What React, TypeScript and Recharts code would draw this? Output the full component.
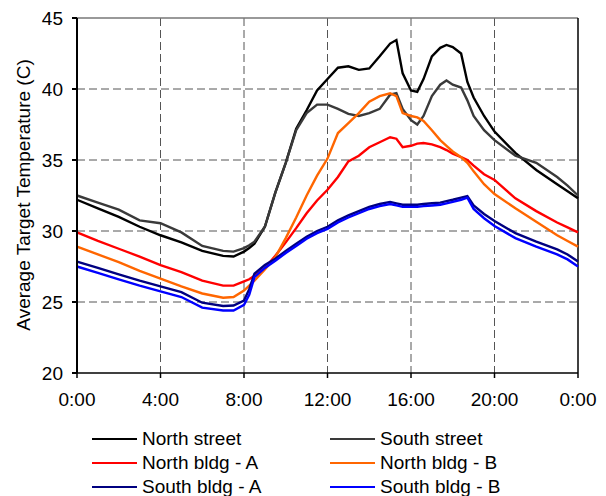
import { LineChart, Line, XAxis, YAxis, CartesianGrid, ReferenceLine, Label } from "recharts"

const HOURS = [0, 1, 2, 3, 4, 5, 6, 7, 7.5, 8, 8.25, 8.5, 9, 9.5, 10, 10.5, 11, 11.5, 12, 12.5, 13, 13.5, 14, 14.5, 15, 15.3, 15.6, 16, 16.3, 16.6, 17, 17.4, 17.7, 18, 18.4, 18.7, 19, 19.5, 20, 21, 22, 23, 23.5, 24]

const NORTH_STREET = [32.2, 31.6, 31.0, 30.3, 29.7, 29.2, 28.6, 28.25, 28.2, 28.55, 28.8, 29.1, 30.3, 32.7, 34.8, 37.2, 38.5, 39.9, 40.7, 41.5, 41.6, 41.35, 41.45, 42.3, 43.2, 43.45, 41.1, 39.9, 39.8, 40.7, 42.3, 42.9, 43.1, 42.95, 42.5, 40.5, 39.4, 38.1, 37.0, 35.5, 34.3, 33.3, 32.8, 32.3]
const SOUTH_STREET = [32.5, 32.0, 31.5, 30.75, 30.55, 29.9, 28.95, 28.6, 28.55, 28.8, 29.0, 29.25, 30.3, 32.7, 34.8, 37.1, 38.3, 38.9, 38.9, 38.6, 38.25, 38.1, 38.3, 38.6, 39.6, 39.7, 38.6, 37.8, 37.5, 38.1, 39.5, 40.3, 40.6, 40.3, 40.1, 39.2, 38.1, 37.1, 36.4, 35.3, 34.8, 33.8, 33.2, 32.5]
const NORTH_BLDG_A = [29.9, 29.3, 28.75, 28.2, 27.6, 27.1, 26.5, 26.15, 26.15, 26.45, 26.6, 26.85, 27.4, 28.25, 29.2, 30.2, 31.25, 32.15, 32.9, 33.8, 34.9, 35.3, 35.9, 36.25, 36.6, 36.5, 35.9, 36.0, 36.15, 36.2, 36.1, 35.9, 35.7, 35.45, 35.2, 35.0, 34.6, 34.0, 33.6, 32.3, 31.4, 30.6, 30.25, 29.9]
const NORTH_BLDG_B = [28.9, 28.35, 27.8, 27.2, 26.65, 26.1, 25.6, 25.3, 25.35, 25.8, 26.15, 26.5, 27.3, 28.15, 29.5, 30.95, 32.5, 33.9, 35.1, 36.9, 37.6, 38.3, 39.1, 39.5, 39.7, 39.5, 38.3, 38.1, 38.0, 37.75, 37.1, 36.4, 36.0, 35.6, 35.2, 34.8, 34.2, 33.3, 32.6, 31.6, 30.65, 29.7, 29.3, 28.9]
const SOUTH_BLDG_A = [27.85, 27.4, 26.95, 26.5, 26.1, 25.7, 24.95, 24.72, 24.75, 25.1, 25.9, 27.0, 27.6, 28.05, 28.6, 29.1, 29.6, 30.0, 30.3, 30.75, 31.1, 31.4, 31.7, 31.9, 32.05, 31.95, 31.85, 31.85, 31.85, 31.9, 31.95, 32.0, 32.1, 32.2, 32.35, 32.45, 31.8, 31.2, 30.7, 29.85, 29.25, 28.7, 28.35, 27.85]
const SOUTH_BLDG_B = [27.5, 27.05, 26.6, 26.15, 25.75, 25.35, 24.6, 24.4, 24.4, 24.8, 25.5, 26.75, 27.4, 27.9, 28.45, 28.95, 29.45, 29.85, 30.15, 30.6, 30.95, 31.25, 31.55, 31.75, 31.9, 31.8, 31.7, 31.7, 31.7, 31.75, 31.8, 31.85, 31.95, 32.05, 32.2, 32.35, 31.55, 30.9, 30.35, 29.5, 28.9, 28.35, 28.0, 27.5]

const X_TICKS = [0, 4, 8, 12, 16, 20, 24]
const Y_TICKS = [20, 25, 30, 35, 40, 45]

const SERIES = [
  { key: "ns", name: "North street", color: "#000000", values: NORTH_STREET },
  { key: "ss", name: "South street", color: "#3a3a3a", values: SOUTH_STREET },
  { key: "na", name: "North bldg - A", color: "#ff0000", values: NORTH_BLDG_A },
  { key: "nb", name: "North bldg - B", color: "#ff6600", values: NORTH_BLDG_B },
  { key: "sa", name: "South bldg - A", color: "#000080", values: SOUTH_BLDG_A },
  { key: "sb", name: "South bldg - B", color: "#0000ff", values: SOUTH_BLDG_B }
]

const FONT = "'Liberation Sans', Arial, sans-serif"

const data = HOURS.map((h, i) => {
  const row: any = { hour: h }
  SERIES.forEach(s => { row[s.key] = s.values[i] })
  return row
})

const fmtHour = (h: number) => `${h % 24}:00`

export default function App() {
  return (
    <div style={{ position: "absolute", left: 0, top: 0, width: 606, height: 496, background: "#fff", fontFamily: FONT, overflow: "hidden" }}>

      <LineChart width={606} height={420} data={data} margin={{ top: 18, right: 28, left: 0, bottom: 0 }}>

        <CartesianGrid stroke="#555" strokeDasharray="8 4" horizontalValues={[25, 30, 35, 40]} verticalValues={[4, 8, 12, 16, 20]} />

        <XAxis
          dataKey="hour"
          type="number"
          domain={[0, 24]}
          ticks={X_TICKS}
          tickFormatter={fmtHour}
          height={47}
          tickSize={5}
          tickMargin={15}
          stroke="#000"
          strokeWidth={1.5}
          tick={{ fill: "#000", fontSize: 19, fontFamily: FONT }}
        />

        <YAxis
          type="number"
          domain={[20, 45]}
          ticks={Y_TICKS}
          width={77}
          tickSize={5}
          tickMargin={9}
          stroke="#000"
          strokeWidth={2}
          tick={{ fill: "#000", fontSize: 19, fontFamily: FONT }}
        >
          <Label
            content={() => (
              <text x={23} y={195} transform="rotate(-90 23 195)" textAnchor="middle" dominantBaseline="central" fontSize={19} fontFamily={FONT} fill="#000">
                Average Target Temperature (C)
              </text>
            )}
          />
        </YAxis>

        <ReferenceLine y={45} stroke="#777" strokeWidth={1.5} />
        <ReferenceLine x={24} stroke="#000" strokeWidth={1.5} />

        {SERIES.map(s => (
          <Line
            key={s.key}
            dataKey={s.key}
            name={s.name}
            type="linear"
            stroke={s.color}
            strokeWidth={2.4}
            dot={false}
            isAnimationActive={false}
          />
        ))}

      </LineChart>

      {/* legend, two columns */}
      {SERIES.map((s, i) => {
        const col = i % 2
        const row = Math.floor(i / 2)
        const left = col === 0 ? 92 : 330
        const top = 439 + row * 24
        return (
          <div key={s.key} style={{ position: "absolute", left, top: top - 12, height: 24, display: "flex", alignItems: "center", whiteSpace: "nowrap" }}>
            <div style={{ width: 45, height: 2.5, background: s.color, marginRight: 5 }} />
            <span style={{ fontSize: 19, color: "#000", lineHeight: "24px" }}>{s.name}</span>
          </div>
        )
      })}

    </div>
  )
}
